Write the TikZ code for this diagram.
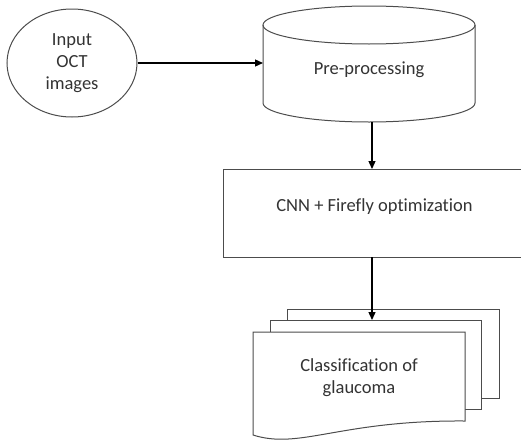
\documentclass[tikz,border=0pt]{standalone}
\usepackage{fontspec}
\setmainfont[Ligatures=NoCommon]{Carlito}
\usetikzlibrary{arrows.meta,shapes.geometric}
\begin{document}
\begin{tikzpicture}[x=1pt,y=-1pt,
  shapeline/.style={draw=black!70, line width=1pt},
  conn/.style={draw=black, line width=1.3pt, -{Triangle[length=8pt,width=7pt]}},
  lbl/.style={font=\fontsize{18.5}{22}\selectfont, text=black!80, align=center, inner sep=0pt},
  ghost/.style={inner sep=0pt, outer sep=0pt}]
\useasboundingbox (0,0) rectangle (521,442);
% input ellipse
\node[ellipse, shapeline, minimum width=130pt, minimum height=108pt, inner sep=0pt, lbl] (in) at (72,63) {Input\\OCT\\images};
% cylinder
\draw[shapeline, fill=white] (263,25) -- (263,103) arc[start angle=180, end angle=360, x radius=106pt, y radius=19pt] -- (475,25);
\draw[shapeline] (369,25) ellipse[x radius=106pt, y radius=19pt];
\node[ghost, minimum width=212pt, minimum height=116pt] (pre) at (369,64) {};
\node[lbl] (pretext) at (369,70) {Pre-processing};
% CNN box
\node[shapeline, ghost, minimum width=303pt, minimum height=88pt] (cnn) at (374.5,213) {};
\node[lbl] (cnntext) at (374.5,207) {CNN + Firefly optimization};
% documents
\draw[shapeline, fill=white] (287,309) rectangle (499,398);
\draw[shapeline, fill=white] (270,320) rectangle (481,409);
\draw[shapeline, fill=white] (253,332) -- (465,332) -- (465,421) .. controls (340,420) and (300,450) .. (253,435) -- cycle;
\node[ghost, minimum width=212pt, minimum height=100pt] (doc) at (359,383) {};
\node[lbl] (doctext) at (359,378) {Classification of\\glaucoma};
\coordinate (docin) at (372,320);
% connectors
\draw[conn] (in.east) -- (in.east -| pre.west);
\draw[conn] ([xshift=3pt]pre.south) -- ([xshift=3pt]pre.south |- cnn.north);
\draw[conn] (cnn.south -| docin) -- (docin);
\end{tikzpicture}
\end{document}
